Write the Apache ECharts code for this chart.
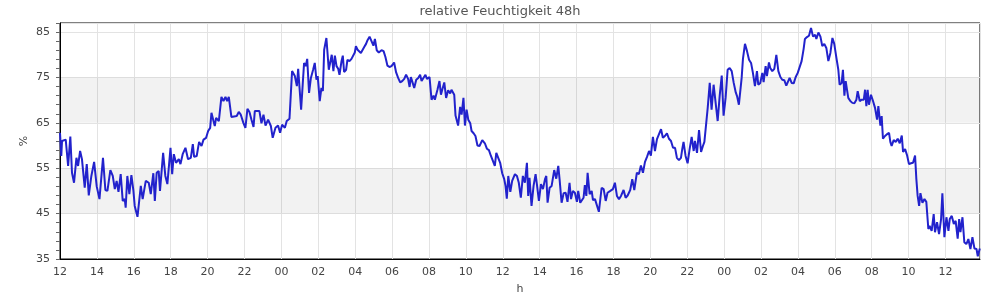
<!DOCTYPE html>
<html><head><meta charset="utf-8">
<script src="https://cdn.jsdelivr.net/npm/echarts@6/dist/echarts.min.js"></script>
<style>html,body{margin:0;padding:0;background:#fff}#c{width:1000px;height:300px}</style>
</head><body><div id="c"></div>
<script>
const chartTitle = 'relative Feuchtigkeit 48h';
const xName = 'h';
const yName = '%';
const startHour = 12;          // clock hour at x = 0
const xMaxHours = 49.87;       // span shown on x axis (hours from start)
const yMin = 35, yMax = 87;
const bands = [[45, 55], [65, 75]];

// hours since 12:00 of the first day
const hours = [
0.00,0.07,0.11,0.31,0.44,0.56,0.65,0.76,0.89,0.98,1.09,1.19,1.34,1.45,1.56,1.70,1.85,1.99,2.14,2.33,
2.46,2.57,2.73,2.86,2.97,3.07,3.17,3.29,3.40,3.51,3.56,3.65,3.76,3.87,3.98,4.05,4.20,4.29,4.38,4.48,
4.65,4.81,4.92,5.06,5.14,5.24,5.35,5.42,5.59,5.71,5.82,5.99,6.08,6.17,6.29,6.44,6.53,6.65,6.80,6.94,
7.09,7.20,7.27,7.41,7.54,7.67,7.78,7.92,8.03,8.14,8.21,8.32,8.39,8.46,8.61,8.75,8.86,8.97,9.06,9.15,
9.29,9.58,9.69,9.80,9.94,10.05,10.16,10.27,10.38,10.49,10.56,10.81,10.92,11.03,11.14,11.28,11.43,11.53,11.68,11.82,
11.93,12.04,12.19,12.29,12.44,
12.58,12.73,12.84,12.91,13.00,13.07,13.16,13.23,13.32,13.40,13.50,13.60,13.72,13.81,13.90,13.97,14.08,14.17,14.25,14.32,
14.44,14.57,14.66,14.73,14.82,14.90,14.99,15.08,15.15,15.26,15.33,15.40,15.51,15.58,15.69,15.80,15.89,15.98,16.04,16.13,
16.20,16.31,16.38,16.49,16.59,16.67,16.78,16.88,16.99,17.07,17.17,17.28,17.43,17.54,17.64,17.75,17.86,17.97,18.11,18.22,
18.33,18.44,18.55,18.66,18.76,18.87,18.95,19.02,19.09,19.20,19.31,19.42,19.52,19.60,19.70,19.81,19.89,20.03,20.14,20.25,
20.32,20.46,20.57,20.65,20.72,20.83,20.93,21.04,21.15,21.22,21.37,21.44,21.51,21.58,21.69,21.77,21.87,21.95,22.04,22.13,
22.24,22.31,22.42,22.52,22.63,22.74,22.89,23.03,23.14,23.25,23.36,23.46,23.57,23.65,23.75,23.86,23.97,24.08,24.15,24.22,
24.30,24.41,24.51,24.66,24.77,24.87,
24.98,25.09,25.20,25.31,25.38,25.45,25.56,25.67,25.78,25.85,25.96,26.07,26.18,26.29,26.36,26.43,26.54,26.65,26.79,26.90,
27.01,27.08,27.19,27.30,27.41,27.51,27.62,27.70,27.80,27.91,28.02,28.09,28.20,28.27,28.38,28.45,28.53,28.60,28.71,28.82,
28.89,29.00,29.10,29.21,29.36,29.47,29.58,29.68,29.83,29.97,30.08,30.19,30.30,30.41,30.55,30.66,30.77,30.91,31.02,31.13,
31.20,31.27,31.38,31.49,31.60,31.71,31.82,31.93,32.03,32.14,32.25,32.36,32.47,32.58,32.68,32.79,32.90,33.01,33.12,33.23,
33.34,33.44,33.55,33.66,33.73,33.80,33.91,34.02,34.13,34.24,34.35,34.42,34.53,34.64,34.75,34.85,34.93,35.03,35.11,35.22,
35.32,35.43,35.54,35.65,35.76,35.87,35.97,36.08,36.19,36.30,36.41,36.52,36.63,36.70,36.80,36.95,37.02,37.13,
37.24,37.35,37.46,37.56,37.67,37.78,37.85,37.96,38.07,38.14,38.25,38.32,38.43,38.50,38.61,38.72,38.83,38.94,39.05,39.15,
39.26,39.37,39.44,39.55,39.66,39.77,39.88,39.99,40.09,40.20,40.31,40.38,40.49,40.60,40.71,40.82,40.93,41.00,41.11,41.22,
41.32,41.43,41.54,41.65,41.76,41.87,41.97,42.08,42.19,42.26,42.37,42.44,42.52,42.59,42.66,42.73,42.84,42.95,43.06,43.17,
43.24,43.35,43.46,43.57,43.64,43.71,43.78,43.85,43.96,44.07,44.18,44.29,44.36,44.47,44.54,44.61,44.72,44.83,44.94,45.01,
45.08,45.19,45.30,45.41,45.52,45.63,45.70,45.81,45.92,46.02,46.13,46.24,46.35,46.42,46.49,46.57,46.64,46.75,46.86,46.96,
47.07,47.14,47.25,47.36,47.43,47.54,47.65,47.76,47.83,47.94,48.05,48.16,48.23,48.34,48.45,48.55,48.66,48.74,48.81,48.92,
49.02,49.13,49.24,49.35,49.46,49.57,49.68,49.75,49.86
];

// relative humidity in %
const humidity = [
62.8,57.7,61.0,61.3,55.5,62.0,54.0,51.8,57.3,55.5,58.8,57.0,50.7,55.9,49.0,53.3,56.4,51.0,48.2,57.3,
50.2,50.0,54.6,53.3,50.4,52.2,49.8,53.7,47.8,48.2,46.3,53.3,49.3,53.5,50.0,46.7,44.3,44.5,51.1,48.2,
52.2,51.8,49.3,53.9,47.8,54.0,54.4,50.0,58.4,53.3,51.5,59.5,53.7,58.1,56.2,57.0,55.9,58.1,59.5,57.0,
57.3,60.3,57.5,57.7,60.8,59.9,61.3,61.7,63.2,63.9,67.2,65.4,64.3,66.1,65.4,70.7,69.8,70.7,69.8,70.7,
66.3,66.5,67.4,66.8,65.0,63.9,68.1,67.4,65.7,64.1,67.6,67.6,64.9,66.8,64.4,65.7,64.3,61.7,63.9,64.4,
62.8,64.6,63.9,65.4,65.9,
76.4,75.3,73.1,76.9,76.9,67.9,67.6,78.2,77.5,79.1,71.6,74.9,76.7,78.2,74.5,75.3,69.8,72.7,72.0,81.1,
83.7,76.7,76.7,80.0,76.4,79.8,77.5,76.9,75.6,78.6,79.8,76.2,76.7,78.9,78.6,79.1,78.9,80.5,81.9,81.1,
81.3,80.4,80.2,81.7,82.4,83.2,84.0,84.0,82.0,83.5,81.0,80.5,81.0,80.8,79.5,77.6,77.3,77.5,78.3,76.1,
74.9,73.9,74.2,74.7,75.6,74.7,72.9,75.1,74.7,72.7,74.5,74.9,75.6,74.2,74.9,75.6,74.7,75.1,70.1,71.0,
70.1,72.3,74.2,71.2,72.3,73.9,70.5,72.2,71.5,72.3,71.2,66.6,66.8,64.4,68.5,66.8,70.5,64.4,67.9,65.7,
64.9,63.2,62.7,62.1,60.0,59.9,61.2,60.5,59.3,59.0,57.7,57.5,55.5,58.4,58.8,56.2,53.9,52.6,51.1,48.3,
53.3,49.8,52.2,53.7,53.3,51.8,
48.5,53.3,51.8,56.2,48.9,52.9,46.7,51.1,53.7,51.5,47.8,51.5,50.4,52.6,53.3,47.4,50.7,51.1,54.6,52.7,
55.5,52.6,47.4,49.5,49.6,47.6,51.8,48.2,50.0,49.6,47.6,50.0,47.4,47.1,48.5,51.3,48.9,54.0,49.3,50.0,
48.0,48.2,47.8,45.4,50.7,50.4,47.8,49.6,50.0,50.4,51.8,48.9,48.2,48.9,50.2,48.5,49.0,50.2,52.6,50.2,
50.0,54.0,53.7,55.6,54.0,56.4,57.5,58.8,57.8,61.9,58.8,61.4,62.5,63.6,61.7,62.1,62.7,61.5,61.0,59.5,
59.5,57.3,56.8,57.3,59.2,60.8,57.7,56.1,59.2,61.9,58.8,61.0,58.4,63.4,58.6,59.9,60.8,60.5,68.3,73.8,
67.9,73.4,69.4,65.4,71.0,75.4,66.6,70.5,76.7,77.1,76.4,73.8,71.7,70.9,69.0,74.9,79.1,82.4,
80.8,78.9,78.2,76.0,73.1,76.4,73.4,73.8,76.0,74.0,77.5,75.3,78.3,77.1,76.4,76.9,80.0,76.4,75.1,74.5,
74.4,73.2,73.4,74.9,73.8,73.7,75.1,76.0,76.1,78.6,81.3,83.5,83.9,84.2,85.9,84.0,84.4,83.5,84.9,84.0,
81.9,82.4,81.5,78.6,80.4,83.7,82.4,79.5,76.7,73.4,73.8,76.7,71.0,74.2,72.3,70.5,69.8,69.4,69.3,70.1,
72.0,69.8,70.1,70.1,72.3,68.7,72.3,69.0,71.2,69.8,68.3,65.7,68.7,64.4,66.5,61.5,62.1,62.5,62.8,60.8,
59.9,61.2,60.8,61.5,60.5,62.2,58.6,59.2,57.8,55.9,56.1,56.2,57.8,52.6,48.9,46.7,49.5,47.4,48.2,47.6,
41.6,42.3,41.2,44.9,40.9,43.1,40.5,43.8,49.5,39.8,44.2,41.2,43.8,44.5,42.7,43.4,39.5,43.8,40.9,44.2,
38.7,38.3,39.4,37.2,39.8,37.3,37.2,35.6,37.3
];

const font = 'DejaVu Sans';
const textColor = '#444';
const chart = echarts.init(document.getElementById('c'), null, {renderer: 'canvas'});
chart.setOption({
  animation: false,
  backgroundColor: '#fff',
  title: {
    text: chartTitle, left: 'center', top: 5, padding: 0,
    textStyle: {fontFamily: font, fontSize: 13, fontWeight: 'normal', color: '#555'}
  },
  grid: {left: 60, right: 20, top: 23, bottom: 40, show: true, borderColor: '#000', borderWidth: 1, backgroundColor: 'transparent'},
  xAxis: {
    type: 'value', min: 0, max: xMaxHours, interval: 2,
    name: xName, nameLocation: 'middle', nameGap: 25, nameMoveOverlap: false,
    nameTextStyle: {fontFamily: font, fontSize: 11, color: textColor},
    axisLine: {show: true, lineStyle: {color: '#000', width: 1}},
    axisTick: {show: false},
    axisLabel: {
      fontFamily: font, fontSize: 11, color: textColor, margin: 8, showMaxLabel: false,
      formatter: v => String((startHour + Math.round(v)) % 24).padStart(2, '0')
    },
    splitLine: {show: true, lineStyle: {color: '#e3e3e3', width: 1}}
  },
  yAxis: [{
    type: 'value', min: yMin, max: yMax, interval: 10,
    name: yName, nameLocation: 'middle', nameGap: 30, nameMoveOverlap: false,
    nameTextStyle: {fontFamily: font, fontSize: 11, color: textColor},
    axisLine: {show: true, lineStyle: {color: '#000', width: 1}},
    axisTick: {show: false},
    axisLabel: {fontFamily: font, fontSize: 11, color: textColor, margin: 10, showMaxLabel: false},
    splitLine: {show: true, lineStyle: {color: '#e3e3e3', width: 1}}
  }, {
    type: 'value', min: yMin, max: yMax, interval: 2, position: 'left',
    axisLine: {show: false},
    axisTick: {show: true, length: 4, lineStyle: {color: '#666', width: 1}},
    axisLabel: {show: false},
    splitLine: {show: false}
  }],
  series: [{
    type: 'line',
    data: hours.map((h, i) => [h, humidity[i]]),
    showSymbol: false,
    lineStyle: {color: '#2222cc', width: 2},
    itemStyle: {color: '#2222cc'},
    markArea: {
      silent: true,
      itemStyle: {color: 'rgba(0,0,0,0.05)'},
      data: bands.map(b => [{yAxis: b[0]}, {yAxis: b[1]}])
    }
  }]
});
</script>
</body></html>
